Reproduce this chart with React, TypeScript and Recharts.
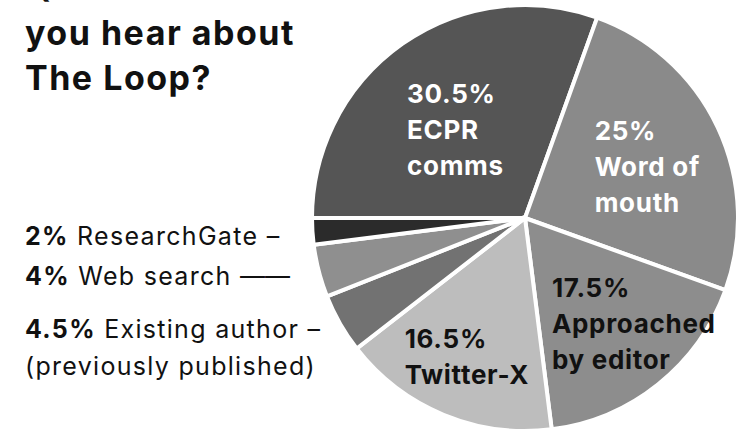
import { PieChart, Pie, Cell } from "recharts";

const names = ["ECPR comms", "Word of mouth", "Approached by editor", "Twitter-X", "Existing author", "Web search", "ResearchGate"];
const shares = [30.5, 25, 17.5, 16.5, 4.5, 4, 2];
const fills = ["#555555", "#8a8a8a", "#8d8d8d", "#bdbdbd", "#727272", "#8f8f8f", "#2b2b2b"];

// label text per slice: bold part first line, rest
const labelLines = [
  ["30.5%", "ECPR", "comms"],
  ["25%", "Word of", "mouth"],
  ["17.5%", "Approached", "by editor"],
  ["16.5%", "Twitter-X"],
];
const outsideLabels = [
  { pct: "4.5%", text: " Existing author ", dash: "–", extra: "(previously published)" },
  { pct: "4%", text: " Web search ", dash: "——" },
  { pct: "2%", text: " ResearchGate ", dash: "–" },
];

// inside label placement: radius fraction and angle shift from slice middle
const place = [
  { rf: 0.774, shift: 10.6, color: "#ffffff" },
  { rf: 0.49, shift: 22.9, color: "#ffffff" },
  { rf: 0.39, shift: -19.8, color: "#111111" },
  { rf: 0.83, shift: -20.4, color: "#111111" },
];

const data = names.map((name, i) => ({ name, value: shares[i] }));

const FONT = "Inter, 'Noto Sans', sans-serif";
const RAD = Math.PI / 180;

const renderLabel = (p: any) => {
  const { cx, cy, midAngle, outerRadius, index } = p;
  if (index < 4) {
    const pl = place[index];
    const a = (midAngle + pl.shift) * RAD;
    const x = cx + pl.rf * outerRadius * Math.cos(a);
    const y = cy - pl.rf * outerRadius * Math.sin(a);
    return (
      <text key={`l${index}`} x={x} y={y} fill={pl.color} fontFamily={FONT} fontWeight={700} fontSize={26} letterSpacing={0.7}>
        {labelLines[index].map((ln, k) => (
          <tspan key={k} x={x} dy={k === 0 ? 0 : 36}>
            {ln}
          </tspan>
        ))}
      </text>
    );
  }
  const o = outsideLabels[index - 4];
  const y = cy - outerRadius * Math.sin(midAngle * RAD) + 14;
  return (
    <text key={`o${index}`} x={25} y={y} fill="#111111" fontFamily={FONT} fontSize={25} letterSpacing={1.3}>
      <tspan fontWeight={700}>{o.pct}</tspan>
      <tspan>{o.text}</tspan>
      <tspan letterSpacing={0}>{o.dash}</tspan>
      {o.extra && (
        <tspan x={25} dy={37}>
          {o.extra}
        </tspan>
      )}
    </text>
  );
};

export default function App() {
  return (
    <div style={{ position: "absolute", left: 0, top: 0, width: 747, height: 435, background: "#fff", overflow: "hidden" }}>
      <PieChart width={747} height={435} margin={{ top: 0, right: 0, bottom: 0, left: 0 }}>
        <text x={25} fill="#111111" fontFamily={FONT} fontWeight={700} fontSize={34} letterSpacing={1.5}>
          <tspan x={25} y={0}>Q: How did</tspan>
          <tspan x={25} y={45}>you hear about</tspan>
          <tspan x={25} y={90}>The Loop?</tspan>
        </text>
        <Pie
          data={data}
          dataKey="value"
          nameKey="name"
          cx={525}
          cy={218}
          outerRadius={213}
          startAngle={180}
          endAngle={-180}
          stroke="#ffffff"
          strokeWidth={4}
          label={renderLabel}
          labelLine={false}
          isAnimationActive={false}
        >
          {data.map((d, i) => (
            <Cell key={d.name} fill={fills[i]} />
          ))}
        </Pie>
      </PieChart>
    </div>
  );
}
